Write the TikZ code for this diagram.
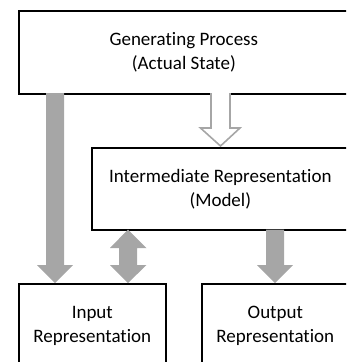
\documentclass[tikz,border=0pt]{standalone}
\usepackage{fontspec}
\setmainfont{Carlito}[Ligatures={NoCommon}]
\begin{document}
\begin{tikzpicture}[x=1pt,y=-1pt,
  box/.style={draw=black,line width=1.6pt,fill=white,anchor=north west,inner sep=0pt,align=center,
    font=\fontsize{19}{24}\selectfont},
  solidarrow/.style={fill=black!35,draw=none},
  hollowarrow/.style={draw=black!35,line width=1.6pt,fill=white,line join=miter}]
\useasboundingbox (0,0) rectangle (346,362);
\clip (0,0) rectangle (346,362);
% boxes
\node[box,minimum width=330pt,minimum height=83pt] (gen) at (18,10) {Generating Process\\(Actual State)};
\node[box,minimum width=257pt,minimum height=82pt] (mid) at (91,147) {Intermediate Representation\\(Model)};
\node[box,minimum width=147pt,minimum height=84pt] (inp) at (18,283) {Input\\Representation};
\node[box,minimum width=147pt,minimum height=84pt] (out) at (201,283) {Output\\Representation};
% arrows
\fill[solidarrow] (46,93) -- (64,93) -- (64,265) -- (73,265) -- (55,283) -- (37,265) -- (46,265) -- cycle;
\draw[hollowarrow] (211,93) -- (211,128) -- (200.5,128) -- (220.5,146) -- (240,128) -- (230,128) -- (230,93);
\fill[solidarrow] (128,229.5) -- (146.5,248) -- (137,248) -- (137,265) -- (146.5,265) -- (128,283) -- (110,265) -- (119,265) -- (119,248) -- (110,248) -- cycle;
\fill[solidarrow] (266,229.5) -- (284,229.5) -- (284,265) -- (293,265) -- (275,283) -- (257,265) -- (266,265) -- cycle;
\end{tikzpicture}
\end{document}
